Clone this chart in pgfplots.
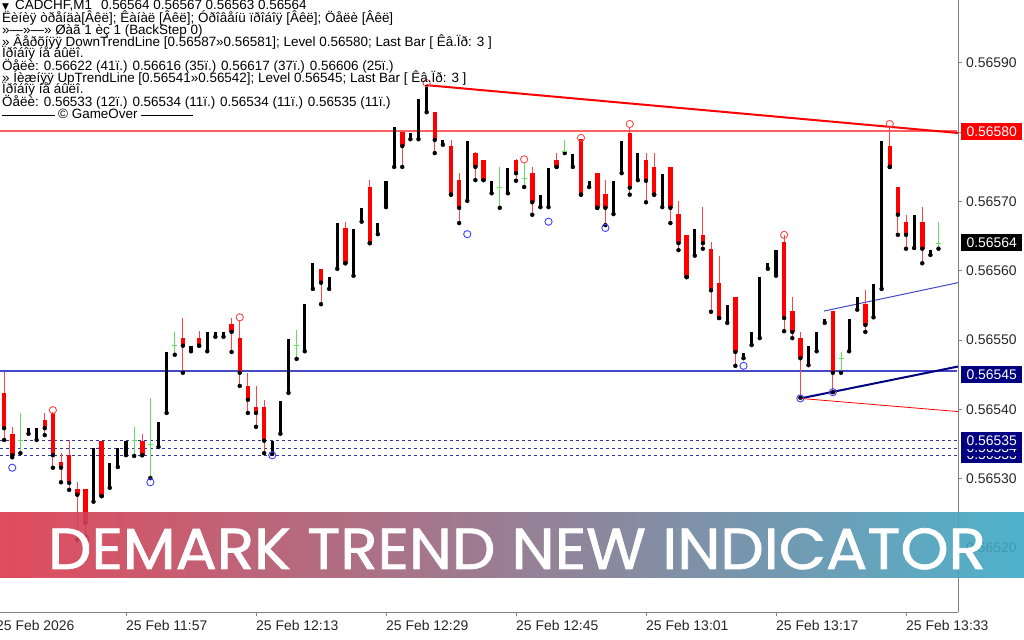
\documentclass[border=0pt]{standalone}
\usepackage{fontspec}
\setmainfont{Liberation Sans}
\newfontfamily\dejavu{DejaVu Sans}
\newfontfamily\poppins{Poppins}[FakeBold=1.3]
\usepackage{pgfplots}
\usepackage{pgfplotstable}
\pgfplotsset{compat=1.18}

\definecolor{mtred}{RGB}{255,0,0}
\definecolor{wickred}{RGB}{255,70,70}
\definecolor{lvlred}{RGB}{255,95,95}
\definecolor{mtgreen}{RGB}{95,225,95}
\definecolor{navy}{RGB}{0,0,128}
\definecolor{lvlblue}{RGB}{70,70,200}
\definecolor{axgray}{RGB}{128,128,128}
\definecolor{bnred}{RGB}{222,56,76}
\definecolor{bnmid}{RGB}{140,118,145}
\definecolor{bnteal}{RGB}{60,170,198}

% y = (price - 0.56500) * 100000, x = minutes after 11:41
\pgfplotstableread{
m o h l c
1 42.4 45.4 35.6 37.3
2 36.5 37.5 33.1 33.4
6 38.5 39.5 36.3 37.3
7 39.5 39.6 31.6 33.4
8 32.4 33.7 29.5 31.6
9 33.4 35.6 28.4 29.4
10 28.5 29.5 21.2 27.7
11 28.5 28.5 21.6 23.6
13 35.5 35.5 27.5 27.5
18 35.5 36.5 33.4 33.4
23 50.3 53.2 45.3 49.2
25 50.3 51.3 49.2 49.2
29 52.3 53.2 48.3 51.2
30 50.3 52.9 43.4 45.3
31 43.4 45.3 39.5 41.4
32 40.4 43.4 37.5 39.5
33 40.4 41.4 33.7 35.5
40 60.3 60.3 55.2 58.3
43 66.2 67.1 61.1 61.1
46 72.1 73.1 64.0 64.0
50 80.0 80.0 75.0 78.0
54 82.9 82.9 77.0 78.9
56 78.0 78.9 71.0 71.0
57 73.1 74.1 66.9 69.1
59 77.0 77.2 73.1 75.0
60 76.0 76.0 73.1 73.1
64 76.0 76.1 73.0 74.1
66 74.1 75.0 68.1 69.9
69 76.0 77.0 75.0 75.0
72 79.0 79.0 71.0 71.0
74 74.1 74.1 69.1 69.1
75 71.1 73.1 66.6 69.1
78 79.9 80.6 71.0 72.0
80 76.0 77.0 69.9 73.0
81 75.0 77.0 71.0 71.0
83 75.0 75.0 66.9 69.1
84 68.2 70.1 63.0 64.0
85 65.2 65.2 59.1 59.1
87 65.2 69.2 63.2 64.0
88 63.2 64.2 54.1 57.2
89 58.3 62.2 53.2 53.2
91 56.2 56.2 46.3 48.3
97 64.2 65.2 51.3 53.2
98 54.2 56.2 50.3 51.2
99 50.3 51.2 41.7 47.4
103 54.2 54.2 42.5 45.3
107 55.2 57.2 51.2 52.2
110 78.0 80.8 75.0 75.0
111 72.1 72.1 65.2 68.1
112 67.1 68.1 63.2 65.2
114 67.1 69.2 61.1 63.2
}\redbars

\pgfplotstableread{
m o c
4 36.5 37.3
5 35.6 37.3
12 26.7 34.4
14 28.7 32.3
15 31.7 34.4
16 33.4 35.5
20 34.6 38.2
21 39.5 48.3
24 48.4 49.2
26 48.4 51.2
27 50.5 51.2
28 50.5 51.2
34 33.6 35.5
35 36.5 41.2
36 42.4 50.2
38 48.4 55.2
39 57.4 61.1
41 57.4 59.1
42 60.3 66.9
44 59.3 66.0
45 67.1 69.1
47 65.3 66.9
48 69.2 73.0
49 75.0 80.8
51 79.0 79.9
52 79.0 84.8
53 82.9 86.8
55 78.2 78.9
58 70.1 78.7
61 71.2 73.0
63 71.2 74.9
67 69.2 71.0
68 69.2 74.9
71 75.0 76.9
73 72.1 73.0
76 68.2 73.0
77 74.1 78.7
79 73.1 77.0
82 69.2 74.0
86 62.2 66.0
90 52.5 55.1
92 47.4 48.2
93 49.3 51.2
94 50.3 59.1
95 60.3 61.1
96 59.3 63.0
100 46.4 49.2
101 48.4 51.2
102 52.5 53.1
105 48.4 53.1
106 54.4 56.2
108 53.3 58.1
109 57.4 78.7
113 63.3 68.1
115 62.3 63.0
}\blackbars

\pgfplotstableread{
m h l c
3 39.5 33.7 35.5
17 37.5 33.3 35.5
19 41.7 30.1 34.9
22 51.2 47.9 49.3
37 51.5 47.3 49.3
62 75.0 69.1 72.1
65 75.6 72.1 73.3
70 78.9 77.0 77.2
104 48.3 45.3 47.4
116 67.1 63.2 64.0
}\dojis

% breakout levels
\pgfplotstableread{
x y
0.5 80.19
59 80.19
118.3 80.19
}\levelred

\pgfplotstableread{
x y
0.5 45.56
59 45.56
118.3 45.56
}\levelblue

\begin{document}
\begin{tikzpicture}
\path[use as bounding box] (0bp,-28bp) rectangle (1024bp,612bp);
\begin{axis}[
    at={(0bp,0bp)}, anchor=south west,
    scale only axis,
    width=958bp, height=612bp,
    xmin=0.492, xmax=118.4,
    ymin=10.78, ymax=99.09,
    axis x line*=bottom,
    axis y line*=right,
    axis line style={axgray, line width=1bp},
    tick align=outside,
    major tick length=4bp,
    tick style={axgray, line width=1bp},
    xtick={16,32,48,64,80,96,112},
    xticklabels={25 Feb 11:57,25 Feb 12:13,25 Feb 12:29,25 Feb 12:45,25 Feb 13:01,25 Feb 13:17,25 Feb 13:33},
    ytick={20,30,40,50,60,70,80,90},
    yticklabels={0.56520,0.56530,0.56540,0.56550,0.56560,0.56570,0.56580,0.56590},
    x tick label style={anchor=north west, inner sep=0pt, yshift=-4bp,
      font=\fontsize{14}{14}\selectfont, text=black!85},
    y tick label style={anchor=west, inner sep=0pt, xshift=4bp,
      font=\fontsize{14}{14}\selectfont, text=black!85},
]
% dotted target levels and trend lines
\addplot[navy!80, line width=1bp, dash pattern=on 3bp off 3bp] coordinates {(0.492,35.5) (118.4,35.5)};
\addplot[navy!80, line width=1bp, dash pattern=on 3bp off 3bp] coordinates {(0.492,34.4) (118.4,34.4)};
\addplot[navy!80, line width=1bp, dash pattern=on 3bp off 3bp] coordinates {(0.492,33.4) (118.4,33.4)};
\addplot[color=lvlred, mark=none, line width=2bp] table[x=x, y=y] {\levelred};
\addplot[color=lvlblue, mark=none, line width=2bp] table[x=x, y=y] {\levelblue};
\addplot[mtred, line width=2bp] coordinates {(53,86.8) (118.4,79.9)};
\addplot[navy, line width=2bp] coordinates {(99,41.6) (118.4,46.2)};
\addplot[lvlblue, line width=1bp] coordinates {(101.9,54.2) (118.4,58.3)};
\addplot[mtred, line width=0.8bp] coordinates {(99,41.6) (118.4,39.7)};
% red candles
\addplot[only marks, mark=none, error bars/.cd, y dir=plus, y explicit, error mark=none,
    error bar style={draw=wickred, line width=1bp}]
  table[x=m, y=l, y error plus expr=\thisrow{h}-\thisrow{l}] {\redbars};
\addplot[only marks, mark=none, error bars/.cd, y dir=plus, y explicit, error mark=none,
    error bar style={draw=mtred, line width=4.5bp}]
  table[x=m, y=c, y error plus expr=\thisrow{o}-\thisrow{c}] {\redbars};
% black candles
\addplot[only marks, mark=none, error bars/.cd, y dir=plus, y explicit, error mark=none,
    error bar style={draw=black, line width=3.2bp}]
  table[x=m, y=o, y error plus expr=\thisrow{c}-\thisrow{o}] {\blackbars};
% dojis
\addplot[only marks, mark=none, error bars/.cd, y dir=plus, y explicit, error mark=none,
    error bar style={draw=mtgreen, line width=1bp}]
  table[x=m, y=l, y error plus expr=\thisrow{h}-\thisrow{l}] {\dojis};
\addplot[only marks, mark=-, mark size=2.5bp, mtgreen, mark options={line width=1bp}]
  table[x=m, y=c] {\dojis};
% fractal circles
\addplot[only marks, mark=o, mark size=3.6bp, color=wickred, mark options={line width=0.9bp}]
  coordinates {(7,39.9) (30,53.3) (53,87.1) (65,76.1) (72,79.2) (78,81.2) (97,65.2) (110,81.2)};
\addplot[only marks, mark=o, mark size=3.6bp, color=blue!75, mark options={line width=0.9bp}]
  coordinates {(2,31.6) (11,21.4) (19,29.5) (34,33.4) (58,65.3) (68,67.1) (75,66.2) (92,46.3) (99,41.6) (103,42.5)};
\end{axis}

% first time label (its tick lies left of the plot)
\node[anchor=north west, inner sep=0pt, font=\fontsize{14}{14}\selectfont, text=black!85]
  at (-4bp,-8bp) {25 Feb 2026};

% price tags on the right
\tikzset{tag/.style={anchor=west, minimum width=61bp, minimum height=17bp, inner sep=0pt,
  text=white, font=\fontsize{14}{14}\selectfont}}
\node[tag, fill=mtred] at (961bp,480.5bp) {0.56580};
\node[tag, fill=black] at (961bp,369bp) {0.56564};
\node[tag, fill=navy] at (961bp,237.5bp) {0.56545};
\node[tag, fill=navy] at (961bp,157bp) {0.56533};
\node[tag, fill=navy] at (961bp,164bp) {0.56534};
\node[tag, fill=navy] at (961bp,171bp) {0.56535};

% info text, top left
\begin{scope}[every node/.style={anchor=base west, inner sep=0pt, font=\fontsize{13.5}{13.5}\selectfont}]
\node at (2bp,602bp) {{\dejavu\fontsize{9}{9}\selectfont ▼}\hspace{6bp}CADCHF,M1\hspace{9bp}0.56564 0.56567 0.56563 0.56564};
\node at (2bp,589bp) {Ëèíèÿ òðåíäà[Âêë]; Êàíàë [Âêë]; Óðîâåíü ïðîáîÿ [Âêë]; Öåëè [Âêë]};
\node at (2bp,577bp) {»—»—» Øàã 1 èç 1 (BackStep 0)};
\node at (2bp,565bp) {» Âåðõíÿÿ DownTrendLine [0.56587»0.56581]; Level 0.56580; Last Bar [ Êâ.Ïð: 3 ]};
\node at (2bp,554bp) {Ïðîáîÿ íå áûëî.};
\node at (2bp,541bp) {Öåëè: 0.56622 (41ï.) 0.56616 (35ï.) 0.56617 (37ï.) 0.56606 (25ï.)};
\node at (2bp,529bp) {» Íèæíÿÿ UpTrendLine [0.56541»0.56542]; Level 0.56545; Last Bar [ Êâ.Ïð: 3 ]};
\node at (2bp,518bp) {Ïðîáîÿ íå áûëî.};
\node at (2bp,505bp) {Öåëè: 0.56533 (12ï.) 0.56534 (11ï.) 0.56534 (11ï.) 0.56535 (11ï.)};
\node at (2bp,493bp) {\rule[3.5bp]{53bp}{0.7bp}\hspace{3bp}© GameOver\hspace{3bp}\rule[3.5bp]{52bp}{0.7bp}};
\end{scope}

% banner
\shade[left color=bnred, middle color=bnmid, right color=bnteal, opacity=0.9]
  (0bp,34bp) rectangle (1024bp,99bp);
\node[anchor=base, inner sep=0pt, text=white] at (517bp,43bp)
  {\scalebox{1.06}[1]{\poppins\fontsize{58}{58}\selectfont DEMARK TREND NEW INDICATOR}};
\end{tikzpicture}
\end{document}
